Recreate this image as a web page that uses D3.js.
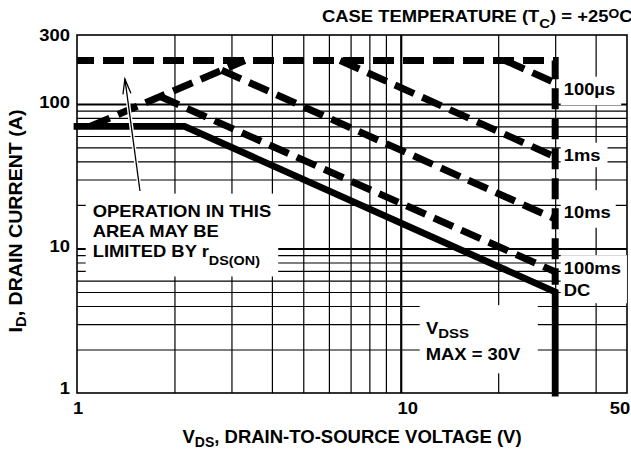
<!DOCTYPE html>
<html><head><meta charset="utf-8">
<script src="https://cdn.jsdelivr.net/npm/d3@7"></script>
<style>
body{margin:0;background:#fff}
svg{display:block}
text{font-family:"Liberation Sans",Arial,Helvetica,sans-serif;font-weight:bold;fill:#000}
</style>
</head><body><svg id="c" width="631" height="452"></svg>
<script>
// ---- data ----
const xTicks = [1, 10, 50];
const yTicks = [1, 10, 100, 300];
const xGrid = [2, 3, 4, 5, 6, 7, 8, 9, 10, 20, 30, 40];
const yGrid = [2, 3, 4, 5, 6, 7, 8, 9, 10, 20, 30, 40, 50, 60, 70, 80, 90, 100];
const limitPulse = [[1, 200], [30, 200], [30, 5.6]];     // current / voltage limit
const rdsOn = [[1.1, 70], [3.3, 200]];                   // rDS(ON) limit
const line100us = [[21, 200], [30, 140]];
const line1ms = [[6.5, 200], [30, 43]];
const line10ms = [[2.8, 171], [30, 16]];
const line100ms = [[1.8, 113], [30, 6.9]];
const lineDC = [[1, 70], [2.15, 70], [30, 5], [30, 1]];
const arrowPts = [[1.565, 25], [1.406, 149]];

const svg = d3.select("#c");
const x = d3.scaleLog().domain([1, 50]).range([77, 627]);
const y = d3.scaleLog().domain([1, 300]).range([393, 35]);
const W = x(50) - x(1), H = y(1) - y(300);

const gGrid = svg.append("g");
const gBox = svg.append("g");
const gLines = svg.append("g");
const gText = svg.append("g");

// grid via axes
const gx = gGrid.append("g").attr("transform", `translate(0,${y(1)})`)
  .call(d3.axisBottom(x).tickValues(xGrid).tickSize(-H).tickFormat(""));
gx.select(".domain").remove();
gx.selectAll("line").attr("stroke", "#000").attr("stroke-width", d => d === 10 ? 2.2 : 1.2);
const gy = gGrid.append("g").attr("transform", `translate(${x(1)},0)`)
  .call(d3.axisLeft(y).tickValues(yGrid).tickSize(-W).tickFormat(""));
gy.select(".domain").remove();
gy.selectAll("line").attr("stroke", "#000").attr("stroke-width", d => (d === 10 || d === 100) ? 2 : 1.2);
gGrid.append("rect").attr("x", x(1)).attr("y", y(300)).attr("width", W).attr("height", H)
  .attr("fill", "none").attr("stroke", "#000").attr("stroke-width", 1.6);

// text helper
function label(parent, px, py, parts, o) {
  const t = parent.append("text")
    .attr("transform", `translate(${px},${py})${o.rot ? ` rotate(${o.rot})` : ""} scale(${o.sx || 1},1)`)
    .attr("font-size", o.size).attr("text-anchor", o.anchor || "start");
  let shift = 0;
  parts.forEach(p => {
    const [s, kind] = Array.isArray(p) ? p : [p, ""];
    const target = kind === "sub" ? o.subShift : kind === "sup" ? -o.supShift : 0;
    const ts = t.append("tspan").attr("dy", target - shift).text(s);
    if (kind === "sub") ts.attr("font-size", o.subSize);
    if (kind === "sup") ts.attr("font-size", o.supSize || o.subSize);
    shift = target;
  });
  return t;
}
function boxBehind(nodes, pad) {
  let x0 = Infinity, y0 = Infinity, x1 = -Infinity, y1 = -Infinity;
  nodes.forEach(n => {
    const b = n.node().getBoundingClientRect();
    x0 = Math.min(x0, b.left); y0 = Math.min(y0, b.top);
    x1 = Math.max(x1, b.right); y1 = Math.max(y1, b.bottom);
  });
  gBox.append("rect").attr("x", x0 - pad[0]).attr("y", y0 - pad[1])
    .attr("width", x1 - x0 + pad[0] + pad[2]).attr("height", y1 - y0 + pad[1] + pad[3])
    .attr("fill", "#fff");
}

const A = {size: 16, sx: 1.15, subSize: 12, subShift: 7};

// tick labels
yTicks.forEach(v => {
  const by = Math.max(40.5, Math.min(394, y(v) + 4));
  label(gText, 70, by, [String(v)], {size: 16, sx: 1.15, anchor: "end"});
});
xTicks.forEach(v => {
  const px = v === 1 ? x(v) + 1 : v === 10 ? x(v) + 7 : x(v) - 7;
  label(gText, px, 413.5, [String(v)], {size: 16, sx: 1.15, anchor: "middle"});
});

// axis titles
label(gText, 352, 442.5, ["V", ["DS", "sub"], ", DRAIN-TO-SOURCE VOLTAGE (V)"],
  {size: 18.5, subSize: 14, subShift: 4, anchor: "middle"});
label(gText, 21.5, 221, ["I", ["D", "sub"], ", DRAIN CURRENT (A)"],
  {size: 18.5, subSize: 14, subShift: 4, anchor: "middle", rot: -90, sx: 1.06});

// title
label(gText, 322, 21.7, ["CASE TEMPERATURE (T", ["C", "sub"], ") = +25", ["O", "sup"], "C"],
  {size: 16, sx: 1.15, subSize: 13, subShift: 6, supSize: 12, supShift: 4});

// annotations
const op1 = label(gText, 92.7, 216.5, ["OPERATION IN THIS"], A);
const op2 = label(gText, 92.7, 236.7, ["AREA MAY BE"], A);
const op3 = label(gText, 92.7, 256.7, ["LIMITED BY r", ["DS(ON)", "sub"]], {size: 16, sx: 1.15, subSize: 12.5, subShift: 8});
boxBehind([op1, op2, op3], [7, 8, 7, 9]);

const v1 = label(gText, 426, 333.5, ["V", ["DSS", "sub"]], {size: 16, sx: 1.15, subSize: 13, subShift: 4});
const v2 = label(gText, 425.7, 360, ["MAX = 30V"], A);
boxBehind([v1, v2], [6, 13.5, 17, 9.6]);

const rx = x(30) + 8.5;
const l1 = label(gText, rx, 94.5, ["100µs"], A); boxBehind([l1], [3, 3, 6, 7]);
const l2 = label(gText, rx, 160.5, ["1ms"], A); boxBehind([l2], [3, 3, 7, 3]);
const l3 = label(gText, rx, 218, ["10ms"], A); boxBehind([l3], [3, 13, 5, 6]);
const l4 = label(gText, rx, 274, ["100ms"], A);
const l5 = label(gText, rx, 295.5, ["DC"], A); boxBehind([l4, l5], [3, 4, 6, 4]);

// curves
const line = d3.line().x(d => x(d[0])).y(d => y(d[1]));
function dashed(data, off) {
  gLines.append("path").attr("d", line(data)).attr("fill", "none").attr("stroke", "#000")
    .attr("stroke-width", 7).attr("stroke-dasharray", "21,9").attr("stroke-dashoffset", off || 0)
    .attr("stroke-linejoin", "miter");
}
dashed(limitPulse, 4);
dashed(rdsOn, 0);
dashed(line100us, 0);
dashed(line1ms, 0);
dashed(line10ms, 0);
dashed(line100ms, 0);
gLines.append("path").attr("d", line(lineDC)).attr("fill", "none").attr("stroke", "#000")
  .attr("stroke-width", 6.8).attr("stroke-linecap", "square").attr("stroke-linejoin", "miter");

// arrow
const [t0, t1] = arrowPts.map(d => [x(d[0]), y(d[1])]);
const ang = Math.atan2(t1[1] - t0[1], t1[0] - t0[0]);
const hl = 15, hw = 4;
const bx = t1[0] - hl * Math.cos(ang), by = t1[1] - hl * Math.sin(ang);
const nx = -Math.sin(ang), ny = Math.cos(ang);
const head = [[bx + nx * hw, by + ny * hw], t1, [bx - nx * hw, by - ny * hw]];
const ag = gLines.append("g");
ag.append("path").attr("d", d3.line()([t0, t1])).attr("stroke", "#fff").attr("stroke-width", 4).attr("fill", "none");
ag.append("path").attr("d", d3.line()(head)).attr("stroke", "#fff").attr("stroke-width", 3.5).attr("fill", "none");
ag.append("path").attr("d", d3.line()([t0, t1])).attr("stroke", "#000").attr("stroke-width", 1.3).attr("fill", "none");
ag.append("path").attr("d", d3.line()(head)).attr("stroke", "#000").attr("stroke-width", 1.3).attr("fill", "none");
</script>
</body></html>
